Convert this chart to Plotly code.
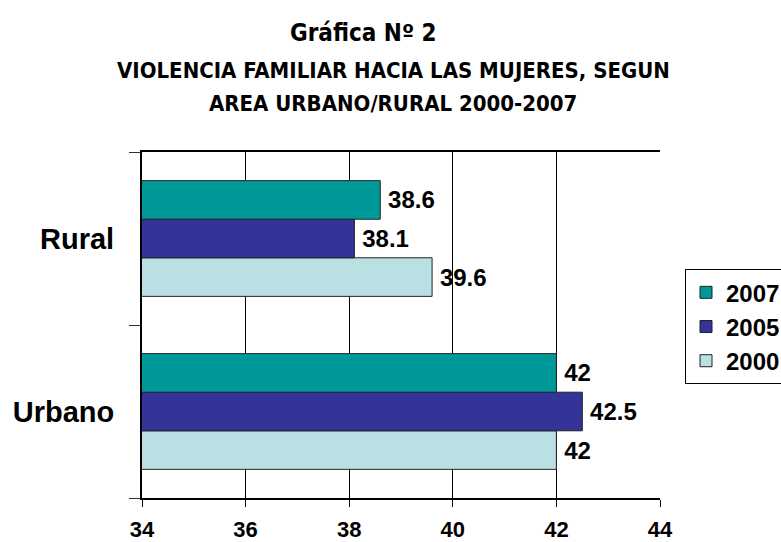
import plotly.graph_objects as go

categories = ["Urbano", "Rural"]
years = ["2000", "2005", "2007"]
values_2000 = [42, 39.6]
values_2005 = [42.5, 38.1]
values_2007 = [42, 38.6]
colors = {"2000": "#BBE0E3", "2005": "#333399", "2007": "#009999"}
x_ticks = [34, 36, 38, 40, 42, 44]

title_text = "Gráfica Nº 2"
subtitle_1 = "VIOLENCIA FAMILIAR HACIA LAS MUJERES, SEGUN"
subtitle_2 = "AREA URBANO/RURAL 2000-2007"

series = {"2000": values_2000, "2005": values_2005, "2007": values_2007}

W, H = 781, 542
L, R, T, B = 142, 660, 151.5, 498.3
pw, ph = R - L, B - T

def px_x(x):
    return (x - L) / pw

def px_y(y):
    return (B - y) / ph

arial = "Liberation Sans, Arial, sans-serif"
narrow = "DejaVu Sans Condensed, Arial Narrow, sans-serif"

fig = go.Figure()
for yr in years:
    vals = series[yr]
    fig.add_trace(go.Bar(
        name=yr,
        y=categories,
        x=vals,
        orientation="h",
        marker=dict(color=colors[yr], line=dict(color="#222222", width=1)),
        text=["\u2009" + f"{v:g}" for v in vals],
        textposition="outside",
        textfont=dict(family=arial, size=24, color="black", weight="bold"),
        constraintext="none",
        cliponaxis=False,
    ))

fig.update_layout(
    width=W, height=H,
    margin=dict(l=L, r=W - R, t=T, b=H - B, pad=0, autoexpand=False),
    paper_bgcolor="white",
    plot_bgcolor="white",
    barmode="group",
    bargap=0.331,
    bargroupgap=0,
    showlegend=True,
    legend=dict(
        x=px_x(685), y=px_y(269), xanchor="left", yanchor="top",
        traceorder="reversed",
        bordercolor="black", borderwidth=1,
        font=dict(family=arial, size=24, color="black", weight="bold"),
        bgcolor="white",
    ),
    xaxis=dict(
        range=[34, 44],
        tickvals=x_ticks,
        ticktext=[str(t) for t in x_ticks],
        showgrid=True, gridcolor="black", gridwidth=1,
        showline=True, linecolor="black", linewidth=1.5, mirror=True,
        ticks="outside", ticklen=7, tickcolor="black",
        tickfont=dict(family=arial, size=22, color="black", weight="bold"),
        ticklabelstandoff=4,
        zeroline=False,
        automargin=False,
    ),
    yaxis=dict(
        type="category",
        categoryorder="array", categoryarray=categories,
        showline=True, linecolor="black", linewidth=2,
        ticks="outside", ticklen=11, tickcolor="#333333",
        tickson="boundaries",
        tickfont=dict(family=arial, size=29, color="black", weight="bold"),
        ticklabelstandoff=20,
        showgrid=False,
        automargin=False,
    ),
    annotations=[
        dict(text=title_text, x=px_x(363), y=px_y(32), xref="paper", yref="paper",
             xanchor="center", yanchor="middle", showarrow=False,
             font=dict(family=narrow, size=24, color="black", weight="bold")),
        dict(text=subtitle_1, x=px_x(393), y=px_y(70), xref="paper", yref="paper",
             xanchor="center", yanchor="middle", showarrow=False,
             font=dict(family=narrow, size=22, color="black", weight="bold")),
        dict(text=subtitle_2, x=px_x(393), y=px_y(103), xref="paper", yref="paper",
             xanchor="center", yanchor="middle", showarrow=False,
             font=dict(family=narrow, size=22, color="black", weight="bold")),
    ],
)

fig.write_html(
    "out.html",
    config={"displayModeBar": False},
    post_script="document.body.style.margin='0';document.body.style.overflow='hidden';",
)
